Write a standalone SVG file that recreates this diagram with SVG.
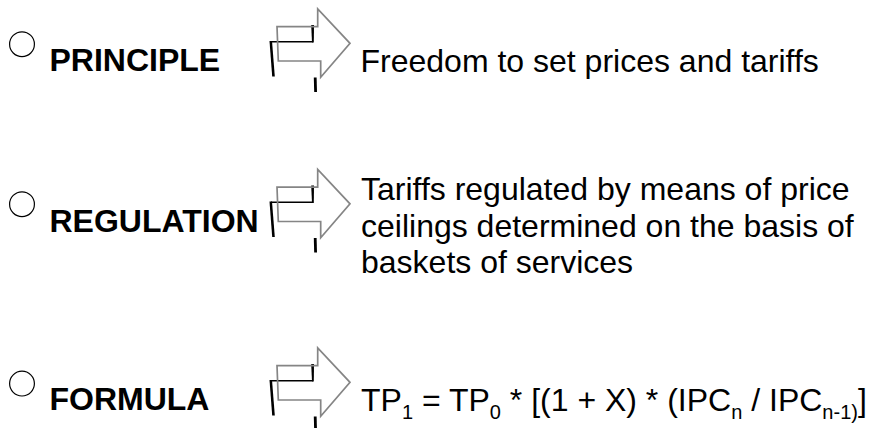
<svg xmlns="http://www.w3.org/2000/svg" xmlns:xlink="http://www.w3.org/1999/xlink" width="872" height="428" viewBox="0 0 872 428">
<style>
.bullet{fill:none;stroke:#000;stroke-width:1.2}
.label{font-family:"Liberation Sans",Arial,sans-serif;font-weight:bold;font-size:32px;fill:#000}
.desc{font-family:"Liberation Sans",Arial,sans-serif;font-size:32px;fill:#000}
.sub{font-size:20px}
.arr{fill:none;stroke:#858585;stroke-width:1.7;stroke-linejoin:miter}
.shd{fill:#000}
.shl{fill:none;stroke:#000;stroke-width:1.4}
</style>
<defs>
<g id="arrow">
<polygon class="shd" points="269.5,41 272,41 274.8,76.5 272.2,76.5"/>
<polyline class="shl" points="271,41.8 312.8,41.8"/>
<polygon class="shd" points="311.2,25 314,25 313.8,42.5 312,42.5"/>
<polygon class="shd" points="313.8,77.5 316.6,77.5 317,92 314.2,92"/>
<path class="arr" d="M277,26.7 L317.7,26.7 L317.7,9 L350,43.3 L320.7,77.3 L320.7,61 L278.3,61 Z"/>
</g>
</defs>
<g id="row-principle">
<circle class="bullet" cx="22" cy="44.2" r="12.4"/>
<text class="label" x="49.5" y="70.7">PRINCIPLE</text>
</g>
<g id="row-regulation">
<circle class="bullet" cx="22" cy="204.2" r="12.4"/>
<text class="label" x="49.5" y="231.7">REGULATION</text>
</g>
<g id="row-formula">
<circle class="bullet" cx="22" cy="383.6" r="12.4"/>
<text class="label" x="49.5" y="410">FORMULA</text>
</g>
<g id="connectors">
<use xlink:href="#arrow" href="#arrow"/>
<use xlink:href="#arrow" href="#arrow" transform="translate(0,160.5)"/>
<use xlink:href="#arrow" href="#arrow" transform="translate(0,339)"/>
</g>
<g id="desc-principle">
<text class="desc" x="360.5" y="71.5">Freedom to set prices and tariffs</text>
</g>
<g id="desc-regulation">
<text class="desc" x="361" y="200">Tariffs regulated by means of price</text>
<text class="desc" x="361" y="236.5">ceilings determined on the basis of</text>
<text class="desc" x="361" y="272.5">baskets of services</text>
</g>
<g id="desc-formula">
<text class="desc" x="361" y="411">TP<tspan class="sub" dy="8">1</tspan><tspan dy="-8"> = TP</tspan><tspan class="sub" dy="8">0</tspan><tspan dy="-8"> * [(1 + X) * (IPC</tspan><tspan class="sub" dy="8">n</tspan><tspan dy="-8"> / IPC</tspan><tspan class="sub" dy="8">n-1)</tspan><tspan dy="-8">]</tspan></text>
</g>
</svg>
